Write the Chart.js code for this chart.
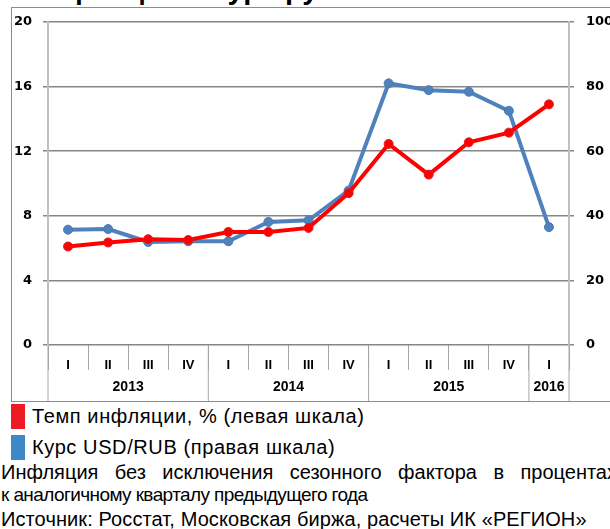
<!DOCTYPE html>
<html>
<head>
<meta charset="utf-8">
<script src="https://cdn.jsdelivr.net/npm/chart.js@4"></script>
<style>
body{margin:0;width:610px;height:529px;overflow:hidden;background:#fff;position:relative;font-family:"Liberation Sans",Arial,sans-serif;}
#title{position:absolute;left:28px;top:-25px;font-weight:bold;font-size:29px;line-height:29px;white-space:nowrap;color:#000;}
#frame{position:absolute;left:11px;top:7px;width:640px;height:393px;border:1px solid #8c8c8c;}
#wrap{position:absolute;left:0;top:0;width:610px;height:402px;}
.sw{position:absolute;left:11px;width:14px;height:25px;}
.txt{position:absolute;font-size:20px;line-height:20px;white-space:nowrap;color:#000;}
</style>
</head>
<body>
<div id="title">Инфляция и курс рубля</div>
<div id="frame"></div>
<div id="wrap"><canvas id="chart" width="610" height="402"></canvas></div>

<div class="sw" style="top:404px;background:#ed1c24"></div>
<div class="txt" style="left:32px;top:406px;letter-spacing:0.6px">Темп инфляции, % (левая шкала)</div>
<div class="sw" style="top:435px;background:#3e87c8"></div>
<div class="txt" style="left:32px;top:437px;letter-spacing:0.6px">Курс USD/RUB (правая шкала)</div>
<div class="txt" style="left:1px;top:462px;width:616px;text-align:justify;text-align-last:justify">Инфляция без исключения сезонного фактора в процентах</div>
<div class="txt" style="left:1px;top:485px;font-size:19px;letter-spacing:-0.6px">к аналогичному кварталу предыдущего года</div>
<div class="txt" style="left:1px;top:509px;letter-spacing:0.1px">Источник: Росстат, Московская биржа, расчеты ИК «РЕГИОН»</div>

<script>
// quarters on the x axis, grouped by year
const quarters = ["I","II","III","IV","I","II","III","IV","I","II","III","IV","I"];
const years = ["2013","2014","2015","2016"];
const yearSpans = [4,4,4,1];

// inflation, % y/y (left scale)
const inflation = [6.1,6.35,6.55,6.5,7.0,7.0,7.25,9.4,12.45,10.55,12.55,13.15,14.9];
// USD/RUB (right scale)
const usdRub = [35.7,35.9,31.9,32.1,32.1,38.1,38.6,47.8,81.0,78.9,78.4,72.5,36.5];

const leftTicks = [0,4,8,12,16,20];
const rightTicks = [0,20,40,60,80,100];

const yearAxis = {
id:'yearAxis',
afterDraw(chart){
const x = chart.scales.x;
const ctx = chart.ctx;
const half = (x.getPixelForValue(1) - x.getPixelForValue(0)) / 2;
const top = chart.chartArea.bottom;
const bottom = 401;
ctx.save();
ctx.strokeStyle = '#a6a6a6';
ctx.lineWidth = 1;
ctx.fillStyle = '#000';
ctx.font = 'bold 14px "Liberation Sans", Arial, sans-serif';
ctx.textAlign = 'center';
ctx.textBaseline = 'middle';
let i = 0;
let right = 0;
years.forEach(function(y, k){
let left = x.getPixelForValue(i) - half;
right = x.getPixelForValue(i + yearSpans[k] - 1) + half;
ctx.beginPath();
ctx.moveTo(left, top);
ctx.lineTo(left, bottom);
ctx.stroke();
ctx.fillText(y, (left + right) / 2, 387);
i += yearSpans[k];
});
ctx.beginPath();
ctx.moveTo(right, top);
ctx.lineTo(right, bottom);
ctx.stroke();
ctx.restore();
}
};

new Chart(document.getElementById('chart'),{
type:'line',
data:{
labels:quarters,
datasets:[
{
label:'Темп инфляции, % (левая шкала)',
data:inflation,
yAxisID:'y',
borderColor:'#ff0000',
backgroundColor:'#ff0000',
pointBorderColor:'#e31b23',
borderWidth:4,
pointRadius:4.5,
pointBorderWidth:1,
tension:0
},
{
label:'Курс USD/RUB (правая шкала)',
data:usdRub,
yAxisID:'y1',
borderColor:'#4f81bd',
backgroundColor:'#4f81bd',
pointBorderColor:'#4a7ab5',
borderWidth:4,
pointRadius:4.5,
pointBorderWidth:1,
tension:0
}
]
},
options:{
responsive:false,
animation:false,
devicePixelRatio:1,
layout:{padding:{top:22,left:0,right:0,bottom:0}},
plugins:{legend:{display:false},tooltip:{enabled:false}},
scales:{
x:{
offset:true,
grid:{offset:true,drawOnChartArea:false,drawTicks:true,tickLength:25,color:'#a6a6a6',lineWidth:1},
border:{display:false},
ticks:{color:'#000',padding:-12,font:{family:'"Liberation Sans", Arial, sans-serif',size:13,weight:'bold'}},
afterFit(s){s.height = 57;}
},
y:{
position:'left',
min:leftTicks[0],
max:leftTicks[leftTicks.length-1],
afterBuildTicks(s){s.ticks = leftTicks.map(v => ({value:v}));},
grid:{color:'#868686',lineWidth:1.5,tickLength:5},
border:{color:'#c0c0c0',width:2},
ticks:{color:'#000',padding:11,font:{family:'"DejaVu Sans", sans-serif',size:13,weight:'bold'}},
afterFit(s){s.width = 48;}
},
y1:{
position:'right',
min:rightTicks[0],
max:rightTicks[rightTicks.length-1],
afterBuildTicks(s){s.ticks = rightTicks.map(v => ({value:v}));},
grid:{drawOnChartArea:false,color:'#868686',lineWidth:1.5,tickLength:5},
border:{color:'#c0c0c0',width:2},
ticks:{color:'#000',padding:12,font:{family:'"DejaVu Sans", sans-serif',size:13,weight:'bold'}},
afterFit(s){s.width = 41;}
}
}
},
plugins:[yearAxis]
});
</script>
</body>
</html>
